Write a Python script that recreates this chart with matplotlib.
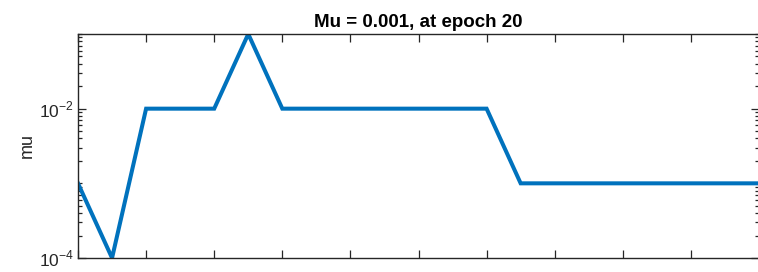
import numpy as np
import matplotlib
matplotlib.use("Agg")
import matplotlib.pyplot as plt
from matplotlib.ticker import LogLocator, NullFormatter, FixedLocator

# mu value per training epoch
epochs = list(range(0, 21))
mu = [1e-3, 1e-4, 1e-2, 1e-2, 1e-2, 1e-1, 1e-2, 1e-2, 1e-2, 1e-2, 1e-2,
      1e-2, 1e-2, 1e-3, 1e-3, 1e-3, 1e-3, 1e-3, 1e-3, 1e-3, 1e-3]
x_ticks = list(range(0, 21, 2))
y_major = [1e-4, 1e-2]
y_labels = ["$10^{-4}$", "$10^{-2}$"]
title = "Mu = 0.001, at epoch 20"

plt.rcParams["font.family"] = ["Liberation Sans", "DejaVu Sans"]
plt.rcParams["mathtext.fontset"] = "custom"
plt.rcParams["mathtext.rm"] = "Liberation Sans"

fig = plt.figure(figsize=(7.58, 2.72), dpi=100)
# right edge of the axes sits just past the canvas, as in the cropped original
ax = fig.add_axes([78 / 758, 14 / 272, 681 / 758, 224 / 272])

ax.plot(epochs, mu, color="#0072BD", linewidth=2.9, solid_joinstyle="miter")
ax.set_yscale("log")
ax.set_xlim(0, 20)
ax.set_ylim(1e-4, 1e-1)

dark = "#262626"
ax.set_xticks(x_ticks)
ax.set_xticklabels([])
ax.yaxis.set_major_locator(FixedLocator(y_major))
ax.set_yticklabels(y_labels)
ax.yaxis.set_minor_locator(LogLocator(base=10, subs=np.arange(1, 10)))
ax.yaxis.set_minor_formatter(NullFormatter())
ax.tick_params(which="both", direction="in", top=True, right=True,
               color=dark, labelcolor=dark, width=0.9, labelsize=12.5)
ax.tick_params(which="major", length=5.5, pad=3)
ax.tick_params(which="minor", length=2.8)
for s in ax.spines.values():
    s.set_color(dark)
    s.set_linewidth(1.0)

ax.set_ylabel("mu", fontsize=13, color=dark, labelpad=2)
ax.set_title(title, fontsize=13.5, fontweight="bold", color="black", pad=5)

fig.savefig("out.png", dpi=100)
